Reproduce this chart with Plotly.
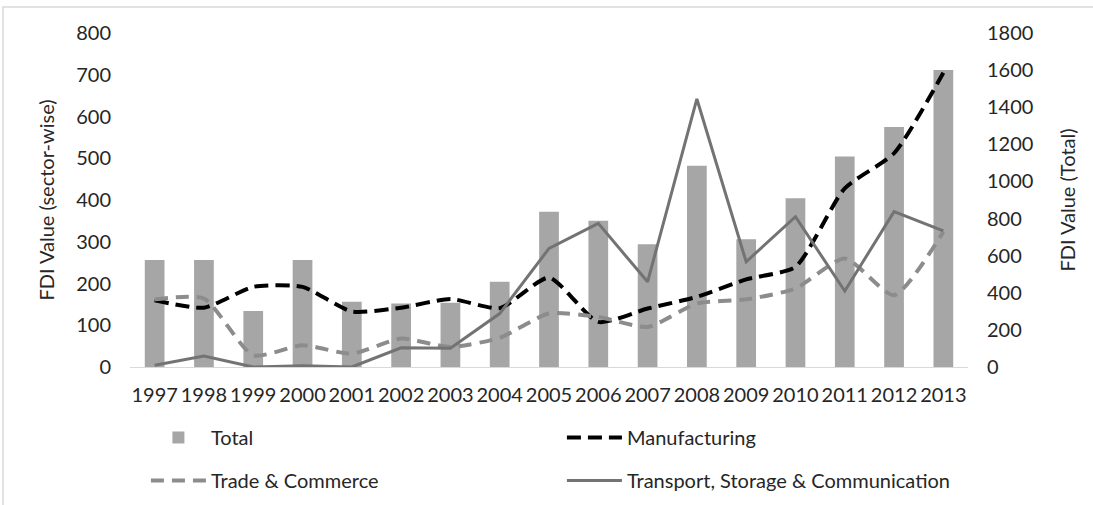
import plotly.graph_objects as go

years = [str(y) for y in range(1997, 2014)]

# Total FDI (right axis)
total = [576, 576, 302, 576, 351, 342, 346, 460, 837, 788, 662, 1084, 689, 909, 1134, 1293, 1600]

# Sector-wise FDI (left axis)
manufacturing = [160, 142, 192, 192, 133, 142, 163, 141, 214, 108, 140, 168, 210, 240, 428, 512, 705]
trade_commerce = [162, 164, 28, 52, 32, 68, 48, 70, 128, 120, 96, 152, 162, 188, 260, 172, 324]
transport = [4, 26, 0, 3, 0, 46, 45, 128, 284, 344, 204, 642, 252, 360, 182, 372, 326]

FONT = "Lato"
TXT = "#262626"
FS = 20

fig = go.Figure()

fig.add_trace(go.Bar(
    x=years, y=total, name="Total", yaxis="y", legend="legend",
    marker=dict(color="#a6a6a6", line=dict(width=0)),
))
fig.add_trace(go.Scatter(
    x=years, y=manufacturing, name="Manufacturing", yaxis="y2", mode="lines",
    legend="legend",
    line=dict(color="#000000", width=4, dash="14px,7px", shape="spline", smoothing=0.6),
))
fig.add_trace(go.Scatter(
    x=years, y=trade_commerce, name="Trade & Commerce", yaxis="y2", mode="lines",
    legend="legend2",
    line=dict(color="#8c8c8c", width=4, dash="13px,8px", shape="spline", smoothing=0.6),
))
fig.add_trace(go.Scatter(
    x=years, y=transport, name="Transport, Storage & Communication", yaxis="y2",
    mode="lines", legend="legend2",
    line=dict(color="#737373", width=3),
))

legend_common = dict(
    orientation="h", xanchor="left", yanchor="middle",
    entrywidth=346, entrywidthmode="pixels",
    font=dict(family=FONT, size=FS, color=TXT),
    itemwidth=55, bgcolor="rgba(0,0,0,0)", traceorder="normal",
)

fig.update_layout(
    width=1093, height=505,
    margin=dict(l=130, r=125, t=33, b=138, autoexpand=False),
    paper_bgcolor="white", plot_bgcolor="white",
    font=dict(family=FONT, size=FS, color=TXT),
    bargap=0.6,
    showlegend=True,
    legend=dict(x=0.019, y=-0.211, **legend_common),
    legend2=dict(x=0.019, y=-0.34, **legend_common),
    xaxis=dict(
        type="category", showgrid=False, showline=True, linecolor="#d9d9d9", linewidth=1,
        ticks="", tickfont=dict(size=FS), ticklabelstandoff=10,
    ),
    yaxis=dict(
        side="right", range=[0, 1800], dtick=200, showgrid=False, zeroline=False,
        showline=False, ticks="", tickfont=dict(size=FS), ticklabelstandoff=18,
        title=dict(text="FDI Value (Total)", font=dict(size=FS), standoff=28),
    ),
    yaxis2=dict(
        overlaying="y", side="left", range=[0, 800], dtick=100, showgrid=False,
        zeroline=False, showline=False, ticks="", tickfont=dict(size=FS),
        ticklabelstandoff=18,
        title=dict(text="FDI Value (sector-wise)", font=dict(size=FS), standoff=16),
    ),
    shapes=[dict(
        type="rect", xref="paper", yref="paper",
        x0=(3 - 130) / 838, x1=(1100 - 130) / 838,
        y0=(367 - 520) / 334, y1=(367 - 7) / 334,
        line=dict(color="#d9d9d9", width=1.5), fillcolor="rgba(0,0,0,0)", layer="below",
    )],
)

fig.write_html("out.html")
